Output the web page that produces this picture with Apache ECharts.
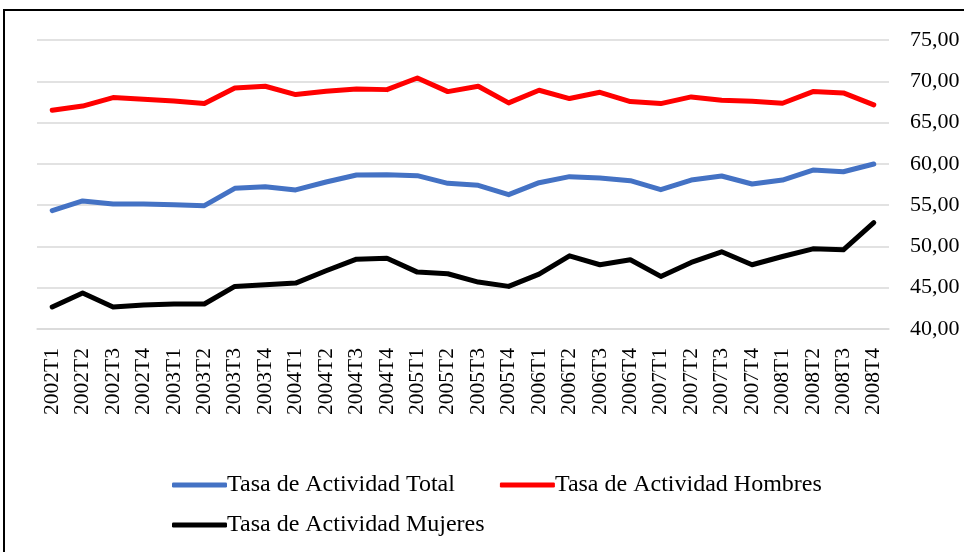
<!DOCTYPE html>
<html><head><meta charset="utf-8">
<script src="https://cdn.jsdelivr.net/npm/echarts@6/dist/echarts.min.js"></script>
<style>html,body{margin:0;padding:0;background:#fff}#c{width:964px;height:552px}</style>
</head><body><div id="c"></div>
<script>
const categories = ['2002T1','2002T2','2002T3','2002T4','2003T1','2003T2','2003T3','2003T4','2004T1','2004T2','2004T3','2004T4','2005T1','2005T2','2005T3','2005T4','2006T1','2006T2','2006T3','2006T4','2007T1','2007T2','2007T3','2007T4','2008T1','2008T2','2008T3','2008T4'];
const total = [54.34,55.51,55.14,55.15,55.06,54.94,57.04,57.24,56.84,57.80,58.65,58.69,58.57,57.64,57.40,56.27,57.72,58.45,58.28,57.96,56.87,58.04,58.53,57.56,58.04,59.25,59.05,59.98];
const hombres = [66.50,67.00,68.03,67.83,67.62,67.30,69.19,69.40,68.39,68.79,69.07,68.99,70.40,68.75,69.40,67.38,68.91,67.91,68.67,67.54,67.30,68.11,67.71,67.58,67.34,68.75,68.59,67.14];
const mujeres = [42.67,44.36,42.67,42.91,43.03,43.03,45.16,45.36,45.56,47.05,48.46,48.58,46.89,46.69,45.68,45.16,46.65,48.86,47.78,48.38,46.37,48.06,49.35,47.78,48.78,49.71,49.59,52.89];
const seriesNames = ['Tasa de Actividad Total','Tasa de Actividad Hombres','Tasa de Actividad Mujeres'];
const yTicks = {min:40, max:75, interval:5};

const FONT = "'Liberation Serif','Times New Roman',serif";
const chart = echarts.init(document.getElementById('c'));
const mk = (name, data, color) => ({
  name, type:'line', data, symbol:'none', smooth:false,
  lineStyle:{color, width:5, cap:'round', join:'round'},
  itemStyle:{color}
});
const legendCommon = {
  orient:'horizontal', itemWidth:55, itemHeight:5, itemGap:45,
  icon:'roundRect',
  textStyle:{fontFamily:FONT, fontSize:24, color:'#000', padding:[0,0,0,-5]}
};
chart.setOption({
  animation:false,
  backgroundColor:'#fff',
  graphic:[{type:'rect', shape:{x:4, y:10, width:1200, height:800}, style:{fill:'none', stroke:'#000', lineWidth:2}, silent:true}],
  grid:{left:37, right:75, top:40, bottom:223, containLabel:false},
  legend:[
    Object.assign({}, legendCommon, {data:[seriesNames[0], seriesNames[1]], left:167, top:468}),
    Object.assign({}, legendCommon, {data:[seriesNames[2]], left:167, top:508})
  ],
  xAxis:{
    type:'category', data:categories, boundaryGap:true,
    axisLine:{show:true, lineStyle:{color:'#d9d9d9', width:1.5}},
    axisTick:{show:false},
    axisLabel:{rotate:90, margin:19, interval:0, fontFamily:FONT, fontSize:21.5, color:'#000'}
  },
  yAxis:{
    type:'value', position:'right', min:yTicks.min, max:yTicks.max, interval:yTicks.interval,
    axisLine:{show:false}, axisTick:{show:false},
    splitLine:{lineStyle:{color:'#d9d9d9', width:1.5}},
    axisLabel:{margin:21, fontFamily:FONT, fontSize:22, color:'#000',
      formatter:v=>v.toFixed(2).replace('.',',')}
  },
  series:[mk(seriesNames[0], total, '#4472c4'), mk(seriesNames[1], hombres, '#ff0000'), mk(seriesNames[2], mujeres, '#000000')]
});
</script></body></html>
